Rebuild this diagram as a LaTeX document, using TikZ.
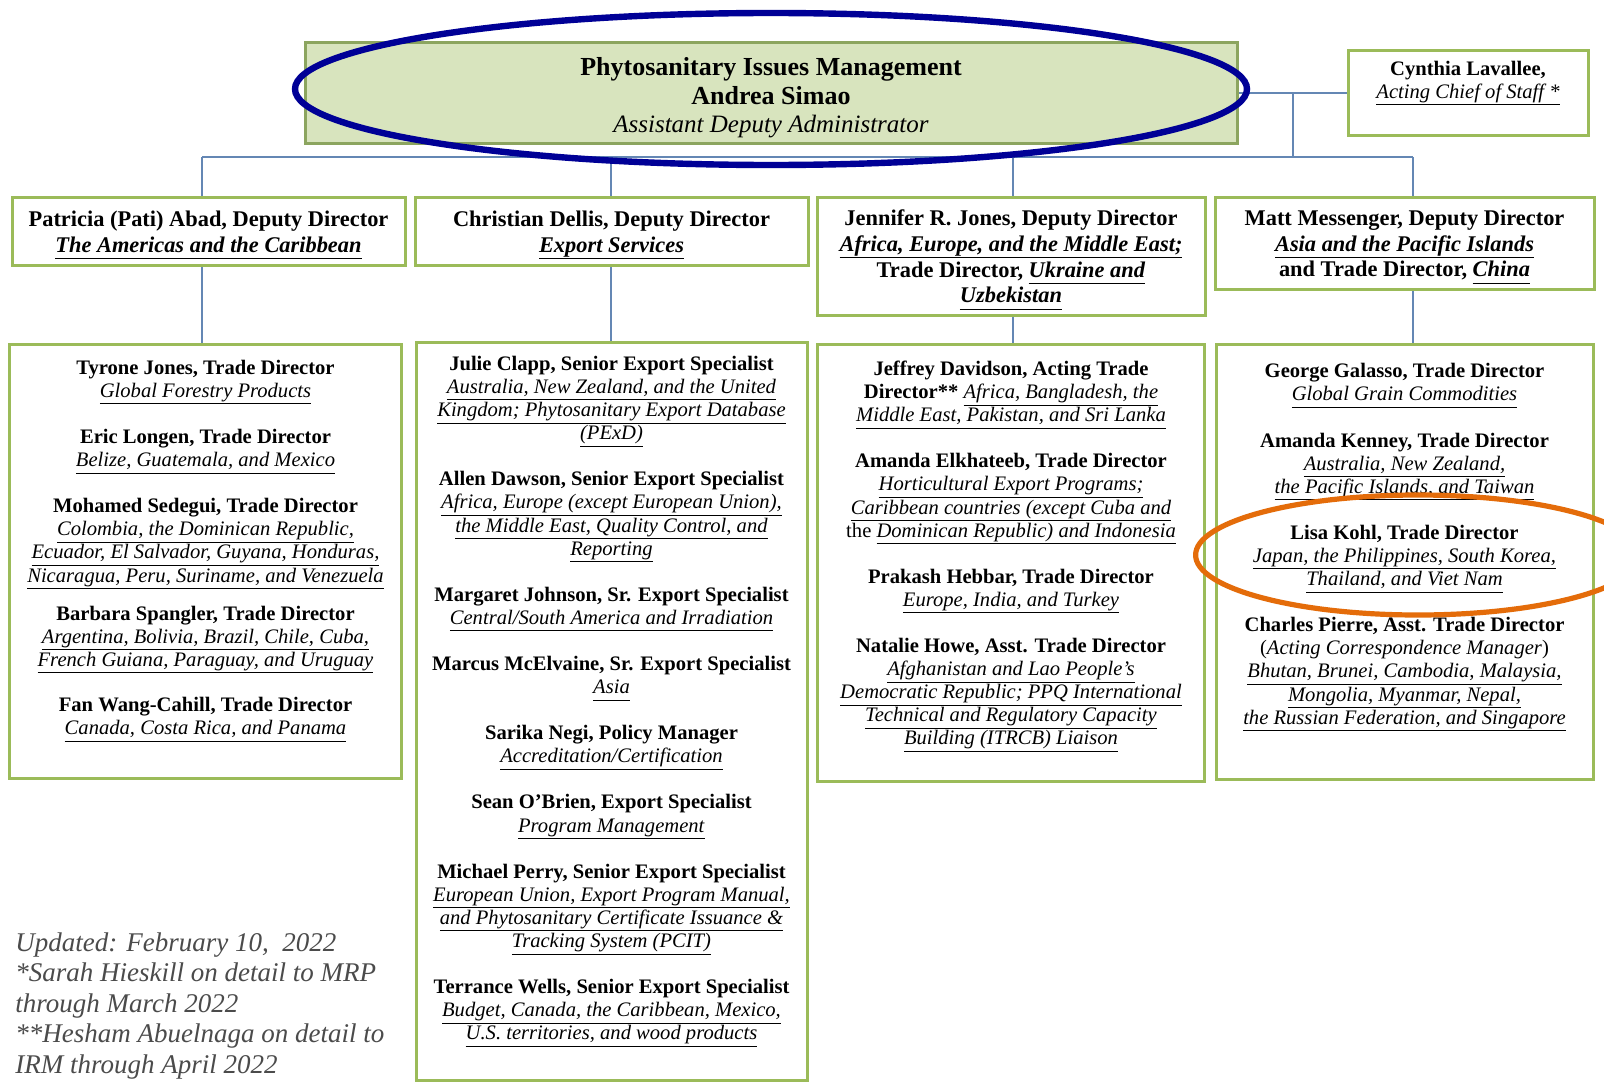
\documentclass[tikz,border=0pt]{standalone}
\usepackage{fontspec}
\setmainfont{Liberation Serif}
\usepackage{tikz}
\usetikzlibrary{positioning}

\definecolor{boxgreen}{RGB}{155,187,89}
\definecolor{topedge}{RGB}{140,165,95}
\definecolor{topfill}{RGB}{216,228,190}
\definecolor{conncol}{RGB}{100,135,180}
\definecolor{ovalblue}{RGB}{0,0,150}
\definecolor{ovalorange}{RGB}{228,108,10}
\definecolor{notegrey}{RGB}{75,75,75}

\newcommand{\fsTop}{\fontsize{13}{14.3}\selectfont}
\newcommand{\fsDep}{\fontsize{11.2}{12.8}\selectfont}
\newcommand{\fsList}{\fontsize{10.3}{11.56}\selectfont}
\newcommand{\fsNote}{\fontsize{13.5}{15.3}\selectfont}
\newcommand{\uit}[1]{\underline{\raisebox{0pt}[\height][1.8pt]{\textit{#1}}}}
\newcommand{\depstrut}{\rule{0pt}{11.5pt}}

\begin{document}
\begin{tikzpicture}[x=0.5pt, y=-0.5pt,
		topbox/.style={draw=topedge, line width=1.5pt, fill=topfill, align=center, inner sep=0pt, font=\fsTop\bfseries},
		sidebox/.style={draw=boxgreen, line width=1.5pt, align=center, inner sep=0pt, font=\fsList},
		depbox/.style={draw=boxgreen, line width=1.5pt, align=center, inner sep=0pt, font=\fsDep\bfseries},
		listbox/.style={draw=boxgreen, line width=1.5pt, align=center, inner sep=0pt, font=\fsList},
		conn/.style={draw=conncol, line width=0.8pt},
		ring/.style={line width=3.2pt}]

	\useasboundingbox[fill=white] (0,0) rectangle (1604,1081);

	\node[topbox, minimum width=466pt, minimum height=50pt] (top) at (771,93)
		{\rule{0pt}{14pt}Phytosanitary Issues Management\\ Andrea Simao\\
		 {\fontsize{12.5}{14}\selectfont\mdseries\itshape Assistant Deputy Administrator}};
	\node[sidebox, minimum width=120pt, minimum height=42.5pt] (cyn) [right=54pt of top]
		{\textbf{Cynthia Lavallee,}\\ \uit{Acting Chief of Staff *}\\[2pt]\mbox{}};

	% deputy directors
	\node[depbox, anchor=north, minimum width=196.5pt, minimum height=34pt] (depA) at (208.5,196)
		{\depstrut Patricia (Pati) Abad, Deputy Director\\ \uit{The Americas and the Caribbean}};
	\node[depbox, anchor=north, minimum width=196.5pt, minimum height=34pt] (depB) at (611.5,196)
		{\depstrut Christian Dellis, Deputy Director\\ \uit{Export Services}};
	\node[depbox, anchor=north, minimum width=194pt, minimum height=59pt] (depC) at (1011,196)
		{\depstrut Jennifer R. Jones, Deputy Director\\ \uit{Africa, Europe, and the Middle East;}\\
		 Trade Director, \uit{Ukraine and}\\ \uit{Uzbekistan}};
	\node[depbox, anchor=north, minimum width=189.5pt, minimum height=46pt] (depD) at (1404.5,196)
		{\depstrut Matt Messenger, Deputy Director\\ \uit{Asia and the Pacific Islands}\\
		 and Trade Director, \uit{China}};

	% staff lists
	\node[listbox, minimum width=196pt, minimum height=217pt] (lowA) [below=38pt of depA, xshift=-1.5pt]
		{\textbf{Tyrone Jones, Trade Director}\\ \uit{Global Forestry Products}\\[11.5pt]
		 \textbf{Eric Longen, Trade Director}\\ \uit{Belize, Guatemala, and Mexico}\\[11.5pt]
		 \textbf{Mohamed Sedegui, Trade Director}\\ \uit{Colombia, the Dominican Republic,}\\
		 \uit{Ecuador, El Salvador, Guyana, Honduras,}\\ \uit{Nicaragua, Peru, Suriname, and Venezuela}\\[7.5pt]
		 \textbf{Barbara Spangler, Trade Director}\\ \uit{Argentina, Bolivia, Brazil, Chile, Cuba,}\\
		 \uit{French Guiana, Paraguay, and Uruguay}\\[11pt]
		 \textbf{Fan Wang-Cahill, Trade Director}\\ \uit{Canada, Costa Rica, and Panama}\\[2.6pt]\mbox{}};
	\node[listbox, minimum width=195.5pt, minimum height=369pt] (lowB) [below=37pt of depB]
		{\textbf{Julie Clapp, Senior Export Specialist}\\ \uit{Australia, New Zealand, and the United}\\
		 \uit{Kingdom; Phytosanitary Export Database}\\ \uit{(PExD)}\\[11.5pt]
		 \textbf{Allen Dawson, Senior Export Specialist}\\ \uit{Africa, Europe (except European Union),}\\
		 \uit{the Middle East, Quality Control, and}\\ \uit{Reporting}\\[11.5pt]
		 \textbf{Margaret Johnson, Sr. Export Specialist}\\ \uit{Central/South America and Irradiation}\\[11.5pt]
		 \textbf{Marcus McElvaine, Sr. Export Specialist}\\ \uit{Asia}\\[11.5pt]
		 \textbf{Sarika Negi, Policy Manager}\\ \uit{Accreditation/Certification}\\[11.5pt]
		 \textbf{Sean O’Brien, Export Specialist}\\ \uit{Program Management}\\[11.5pt]
		 \textbf{Michael Perry, Senior Export Specialist}\\ \uit{European Union, Export Program Manual,}\\
		 \uit{and Phytosanitary Certificate Issuance \&}\\ \uit{Tracking System (PCIT)}\\[11.5pt]
		 \textbf{Terrance Wells, Senior Export Specialist}\\ \uit{Budget, Canada, the Caribbean, Mexico,}\\
		 \uit{U.S. territories, and wood products}\\[2pt]\mbox{}};
	\node[listbox, minimum width=193.5pt, minimum height=218.5pt] (lowC) [below=13pt of depC]
		{\textbf{Jeffrey Davidson, Acting Trade}\\ \textbf{Director**} \uit{Africa, Bangladesh, the}\\
		 \uit{Middle East, Pakistan, and Sri Lanka}\\[11.5pt]
		 \textbf{Amanda Elkhateeb, Trade Director}\\ \uit{Horticultural Export Programs;}\\
		 \uit{Caribbean countries (except Cuba and}\\ the \uit{Dominican Republic) and Indonesia}\\[11.5pt]
		 \textbf{Prakash Hebbar, Trade Director}\\ \uit{Europe, India, and Turkey}\\[11.5pt]
		 \textbf{Natalie Howe, Asst. Trade Director}\\ \uit{Afghanistan and Lao People’s}\\
		 \uit{Democratic Republic; PPQ International}\\ \uit{Technical and Regulatory Capacity}\\
		 \uit{Building (ITRCB) Liaison}\\[-1.5pt]\mbox{}};
	\node[listbox, minimum width=188.5pt, minimum height=217.5pt] (lowD) [below=26pt of depD]
		{\textbf{George Galasso, Trade Director}\\ \uit{Global Grain Commodities}\\[11.5pt]
		 \textbf{Amanda Kenney, Trade Director}\\ \uit{Australia, New Zealand,}\\
		 \uit{the Pacific Islands, and Taiwan}\\[11.5pt]
		 \textbf{Lisa Kohl, Trade Director}\\ \uit{Japan, the Philippines, South Korea,}\\
		 \uit{Thailand, and Viet Nam}\\[11.5pt]
		 \textbf{Charles Pierre, Asst. Trade Director}\\ (\textit{Acting Correspondence Manager})\\
		 \uit{Bhutan, Brunei, Cambodia, Malaysia,}\\ \uit{Mongolia, Myanmar, Nepal,}\\
		 \uit{the Russian Federation, and Singapore}\\[6.6pt]\mbox{}};

	\node[anchor=north west, align=left, inner sep=0pt, font=\fsNote\itshape, text=notegrey] (note) at (15,932)
		{Updated: February 10, \ 2022\\ *Sarah Hieskill on detail to MRP\\ through March 2022\\
		 **Hesham Abuelnaga on detail to\\ IRM through April 2022};

	% connectors
	\coordinate (colA) at (202,157);
	\coordinate (colB) at (611,157);
	\coordinate (colC) at (1013,157);
	\coordinate (colD) at (1413,157);
	\coordinate (hub) at (1293,157);
	\draw[conn] (top.east) -- (cyn.west);
	\draw[conn] (hub) -- (hub |- top.east);
	\draw[conn] (colA) -- (colD);
	\foreach \c in {A,B,C,D} {
		\draw[conn] (col\c) -- (col\c |- dep\c.north);
		\draw[conn] (col\c |- dep\c.south) -- (col\c |- low\c.north);
	}

	\draw[ring, draw=ovalblue] (771,89) ellipse [x radius=238pt, y radius=38pt];
	\draw[ring, draw=ovalorange, line width=2.6pt] (1418,555) ellipse [x radius=111.2pt, y radius=30pt];
\end{tikzpicture}
\end{document}
